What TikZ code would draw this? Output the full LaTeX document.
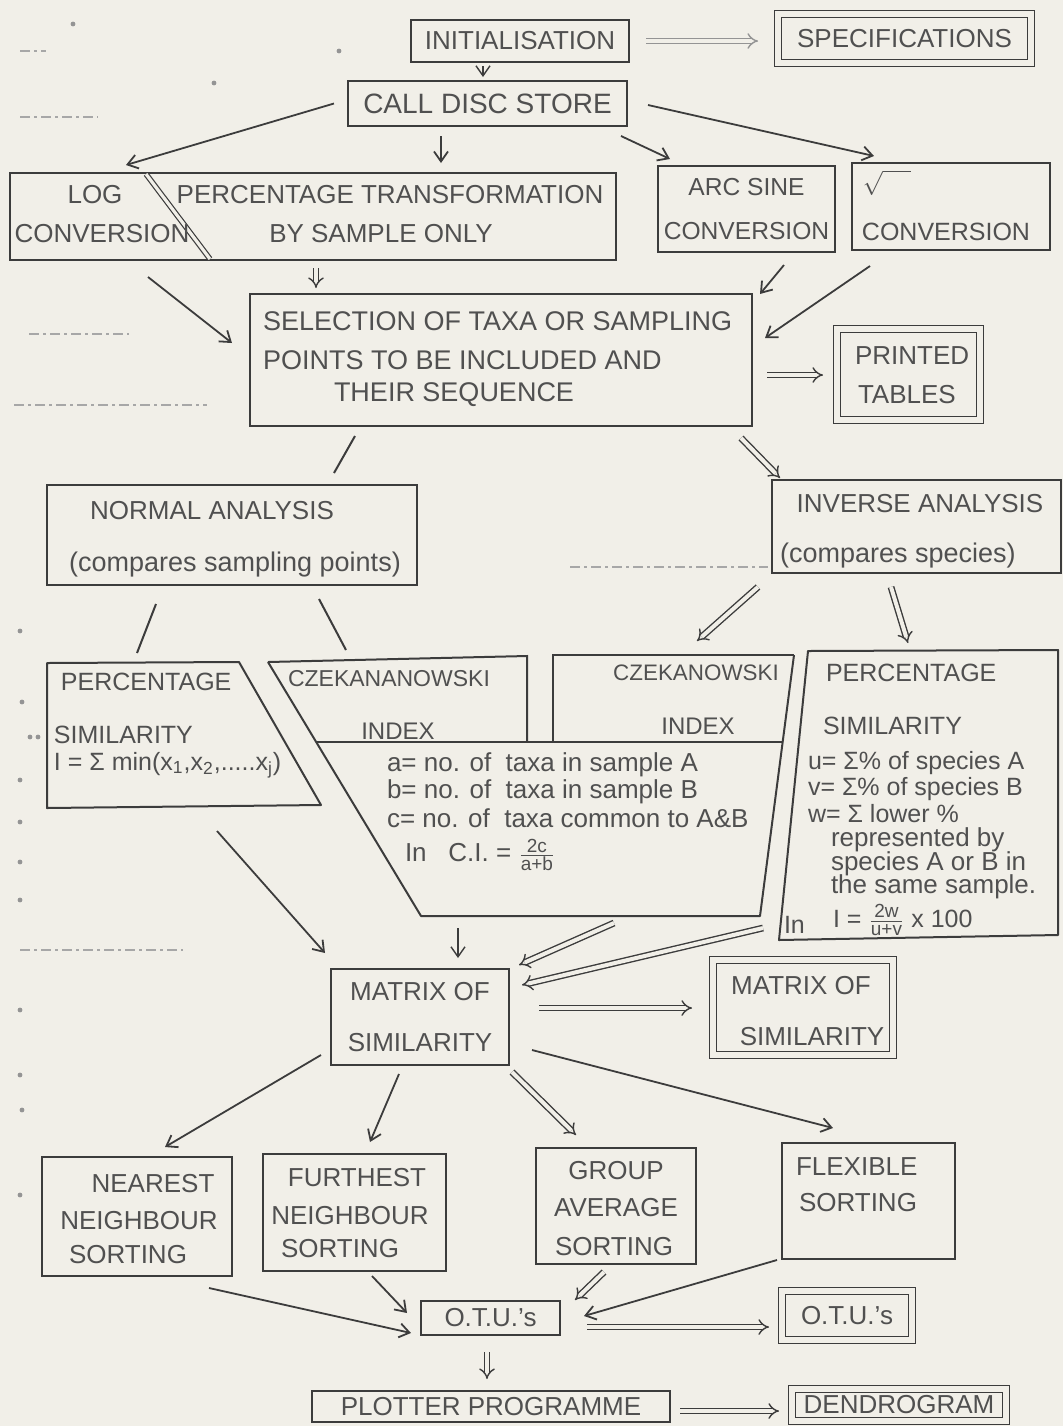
\documentclass[tikz,border=0pt]{standalone}
\usepackage{fontspec}
\setmainfont{Liberation Sans}
\usetikzlibrary{arrows.meta,calc}
\definecolor{paper}{HTML}{F1EFE8}
\definecolor{ink}{HTML}{3C3C3C}
\definecolor{txt}{HTML}{505050}
\newcommand\fsA{\fontsize{13}{15}\selectfont}
\newcommand\fsFr{\fontsize{9.5}{10}\selectfont}
\begin{document}
\begin{tikzpicture}[x=0.5pt,y=-0.5pt,
  box/.style={draw=ink, line width=0.9pt, inner sep=0pt, outer sep=0pt, text=txt, font=\fsA},
  dbox/.style={box, double=paper, double distance=2.6pt, line width=0.8pt},
  tx/.style={text=txt, inner sep=0pt, outer sep=0pt, font=\fsA},
  tw/.style={tx, anchor=west},
  arr/.style={draw=ink, line width=0.9pt, -{Straight Barb[length=5pt,width=7pt]}},
  dar/.style={draw=ink, line width=0.7pt, double=paper, double distance=2pt, -{Implies}},
  ln/.style={draw=ink, line width=1pt},
  scrap/.style={draw=ink!45, line width=0.8pt, dash pattern=on 5pt off 2pt on 1.5pt off 2pt},
  speck/.style={fill=ink!55}]
\fill[paper] (0,0) rectangle (1063,1426);
\useasboundingbox (0,0) rectangle (1063,1426);

% ---------- margin scraps ----------
\draw[scrap] (20,51) -- (46,51);
\draw[scrap] (20,117) -- (98,117);
\draw[scrap] (29,334) -- (129,334);
\draw[scrap] (14,405) -- (207,405);
\draw[scrap] (570,567) -- (768,567);
\draw[scrap] (20,950) -- (183,950);
\foreach \p in {(73,24),(214,83),(339,51),(20,631),(22,702),(30,737),(38,737),(20,780),(20,822),(20,862),(20,900),(20,1010),(20,1075),(22,1110),(20,1195)}
  \fill[speck] \p circle (1.2pt);

% ---------- boxes ----------
\node[box, minimum width=109pt, minimum height=21pt] (init) at (520,41) {INITIALISATION};
\node[dbox, minimum width=126.5pt, minimum height=24.5pt] (spec) at (904.5,38.5) {SPECIFICATIONS};
\node[box, minimum width=139.5pt, minimum height=22.5pt, font=\fontsize{14}{16}\selectfont] (call) at (487.5,103.5) {CALL DISC STORE};
\node[box, minimum width=303pt, minimum height=43.5pt] (logp) at (313,216.5) {};
\node[box, minimum width=88.5pt, minimum height=43pt, align=center, font=\fontsize{12.3}{22}\selectfont] (arcs) at (746.5,209) {ARC SINE\\CONVERSION};
\node[box, minimum width=99pt, minimum height=43.5pt] (sqrt) at (951,206.5) {};
\node[box, minimum width=251pt, minimum height=66pt] (sel) at (501,360) {};
\node[dbox, minimum width=71.5pt, minimum height=45.5pt] (print) at (908.5,374.5) {};
\node[box, minimum width=185pt, minimum height=50pt] (norm) at (232,535) {};
\node[box, minimum width=144.5pt, minimum height=46.5pt] (inv) at (916.5,526.5) {};
\node[box, minimum width=89pt, minimum height=48pt, align=center, font=\fontsize{13}{25.5}\selectfont] (mat) at (420,1017) {MATRIX OF\\SIMILARITY};
\node[dbox, minimum width=90pt, minimum height=47.5pt] (mout) at (803,1007.5) {};
\node[box, minimum width=95pt, minimum height=59.5pt] (near) at (137,1216.5) {};
\node[box, minimum width=91.5pt, minimum height=58.5pt] (fur) at (354.5,1212.5) {};
\node[box, minimum width=80pt, minimum height=58pt] (grp) at (616,1206) {};
\node[box, minimum width=86.5pt, minimum height=58pt] (flex) at (868.5,1201) {};
\node[box, minimum width=69.5pt, minimum height=17pt] (otu) at (490.5,1318) {O.T.U.'s};
\node[dbox, minimum width=65pt, minimum height=24.5pt] (otuo) at (847,1315.5) {O.T.U.'s};
\node[box, minimum width=179pt, minimum height=15.5pt] (plotter) at (491,1406.5) {PLOTTER PROGRAMME};
\node[dbox, minimum width=107pt, minimum height=16pt] (dend) at (899,1405) {DENDROGRAM};

% divider in LOG / PERCENTAGE box
\draw[draw=ink, line width=0.6pt, double=paper, double distance=1.6pt] (146,174) -- (210,259);

% ---------- similarity shapes ----------
\draw[ln, line join=round] (239,662) -- (47,663) -- (47,808) -- (321,805) -- cycle;
\draw[ln] (268,662) -- (527,656) -- (527,742);
\draw[ln] (553,742) -- (553,655) -- (794,655);
\draw[ln, line join=round] (268,662) -- (421,916) -- (760,916) -- (794,655);
\draw[ln] (316,742) -- (783,742);
\draw[ln, line join=round] (808,651) -- (1058,650) -- (1058,935) -- (779,940) -- cycle;

\coordinate (plTop) at (137,653);
\coordinate (czlTop) at (346,650);
\coordinate (czrTop) at (697,641);
\coordinate (prTop) at (908,643);
\coordinate (plBot) at (217,831);
\coordinate (czBot) at (458,928);
\coordinate (czBot2) at (614,923);
\coordinate (prBot) at (763,928);

% ---------- texts ----------
\node[tx] (tLog) at (95,195) {LOG};
\node[tx] (tConv1) at (102,234) {CONVERSION};
\node[tx] (tPT) at (390,195) {PERCENTAGE TRANSFORMATION};
\node[tx] (tBS) at (381,234) {BY SAMPLE ONLY};
\node[tx] (tRad) at (887,183) {$\sqrt{\hphantom{nn}}$};
\node[tx, font=\fontsize{12.5}{14}\selectfont] (tConv2) at (946,232) {CONVERSION};
\node[tw, font=\fontsize{13.5}{15}\selectfont] (tS1) at (263,321) {SELECTION OF TAXA OR SAMPLING};
\node[tw, font=\fontsize{13.5}{15}\selectfont] (tS2) at (263,360) {POINTS TO BE INCLUDED AND};
\node[tw, font=\fontsize{13.5}{15}\selectfont] (tS3) at (334,395) {THEIR SEQUENCE};
\node[tw] (tP1) at (855,356) {PRINTED};
\node[tw] (tP2) at (858,395) {TABLES};
\node[tx] (tN1) at (212,511) {NORMAL ANALYSIS};
\node[tx, font=\fontsize{13.5}{15}\selectfont] (tN2) at (235,565) {(compares sampling points)};
\node[tx] (tI1) at (920,504) {INVERSE ANALYSIS};
\node[tx, font=\fontsize{13.5}{15}\selectfont] (tI2) at (898,556) {(compares species)};
% left percentage similarity
\node[tw, font=\fontsize{12.5}{14}\selectfont] (tLP1) at (61,682) {PERCENTAGE};
\node[tw, font=\fontsize{12.5}{14}\selectfont] (tLP2) at (54,735) {SIMILARITY};
\node[tw, font=\fontsize{12.5}{14}\selectfont] (tLP3) at (54,765) {I = Σ min(x\textsubscript{1},x\textsubscript{2},.....x\textsubscript{j})};
% Czekanowski
\node[tw, font=\fontsize{11.5}{14}\selectfont] (tCL1) at (288,679) {CZEKANANOWSKI};
\node[tx, font=\fontsize{12}{14}\selectfont] (tCL2) at (398,731) {INDEX};
\node[tx, font=\fontsize{11.2}{14}\selectfont] (tCR1) at (696,673) {CZEKANOWSKI};
\node[tx, font=\fontsize{12}{14}\selectfont] (tCR2) at (698,726) {INDEX};
\node[tw, font=\fontsize{13}{14}\selectfont] (tF1) at (387,765) {a= no. of\ \ taxa in sample A};
\node[tw, font=\fontsize{13}{14}\selectfont] (tF2) at (387,792) {b= no. of\ \ taxa in sample B};
\node[tw, font=\fontsize{13}{14}\selectfont] (tF3) at (387,818) {c= no. of\ \ taxa common to A\&B};
\node[tw, font=\fontsize{13}{14}\selectfont] (tF4) at (405,855) {In\ \ \ C.I. = $\frac{\mbox{\fsFr 2c}}{\mbox{\fsFr a+b}}$};
% right percentage similarity
\node[tw, font=\fontsize{12.5}{14}\selectfont] (tRP1) at (826,673) {PERCENTAGE};
\node[tw, font=\fontsize{12.5}{14}\selectfont] (tRP2) at (823,726) {SIMILARITY};
\node[tw, font=\fontsize{12.5}{14}\selectfont] (tRP3) at (808,763) {u= Σ\% of species A};
\node[tw, font=\fontsize{12.5}{14}\selectfont] (tRP4) at (808,789) {v= Σ\% of species B};
\node[tw, font=\fontsize{12.5}{14}\selectfont] (tRP5) at (808,814) {w= Σ lower \%};
\node[tw, font=\fontsize{13}{14}\selectfont] (tRP6) at (831,840) {represented by};
\node[tw, font=\fontsize{13}{14}\selectfont] (tRP7) at (831,864) {species A or B in};
\node[tw, font=\fontsize{13}{14}\selectfont] (tRP8) at (831,887) {the same sample.};
\node[tw, font=\fontsize{12.5}{14}\selectfont] (tRP9) at (784,925) {In};
\node[tw, font=\fontsize{12.5}{14}\selectfont] (tRP10) at (833,920) {I = $\frac{\mbox{\fsFr 2w}}{\mbox{\fsFr u+v}}$ x 100};
% output matrix
\node[tx] (tM1) at (801,986) {MATRIX OF};
\node[tx] (tM2) at (812,1037) {SIMILARITY};
% sorting boxes
\node[tx] (tNe1) at (153,1184) {NEAREST};
\node[tx] (tNe2) at (139,1221) {NEIGHBOUR};
\node[tx] (tNe3) at (128,1255) {SORTING};
\node[tx] (tFu1) at (357,1178) {FURTHEST};
\node[tx] (tFu2) at (350,1216) {NEIGHBOUR};
\node[tx] (tFu3) at (340,1249) {SORTING};
\node[tx] (tGr1) at (616,1171) {GROUP};
\node[tx] (tGr2) at (616,1208) {AVERAGE};
\node[tx] (tGr3) at (614,1247) {SORTING};
\node[tw] (tFl1) at (796,1167) {FLEXIBLE};
\node[tw] (tFl2) at (799,1203) {SORTING};

% ---------- connectors ----------
\draw[arr, line width=0.7pt] ($(init.south)+(-37,4)$) -- ($(call.north)+(-4.5,-4)$);
\draw[dar, draw=ink!55] ($(init.east)+(17,0)$) -- ($(spec.west)+(-20,2.5)$);
\draw[arr] ($(call.west)+(-14,0)$) -- ($(logp.north)+(-187,-8)$);
\draw[arr] ($(call.south)+(-46.5,10)$) -- ($(logp.north)+(128,-10)$);
\draw[arr] ($(call.south east)+(-6,10)$) -- ($(arcs.north west)+(12,-7)$);
\draw[arr] ($(call.east)+(21,1.5)$) -- ($(sqrt.north west)+(22,-7)$);
\draw[dar] ($(logp.south)+(3,8)$) -- ($(sel.north west)+(66,-6)$);
\draw[arr] ($(logp.south west)+(138,17)$) -- ($(sel.west)+(-18,-17)$);
\draw[arr] ($(arcs.south)+(37.5,13)$) -- ($(sel.north east)+(8,0)$);
\draw[arr] ($(sqrt.south west)+(18,16)$) -- ($(sel.east)+(13,-22)$);
\draw[dar] ($(sel.east)+(15,15)$) -- ($(print.west)+(-14,0.5)$);
\draw[dar] ($(sel.south east)+(-11,12)$) -- ($(inv.north west)+(8,-2)$);
\draw[ln] ($(sel.south west)+(105,10)$) -- ($(norm.north)+(102,-12)$);
\draw[ln] ($(norm.south)+(-76,19)$) -- (plTop);
\draw[ln] ($(norm.south)+(87,14)$) -- (czlTop);
\draw[dar] ($(inv.south west)+(-14,14)$) -- (czrTop);
\draw[dar] ($(inv.south)+(-25.5,14)$) -- (prTop);
\draw[arr] (plBot) -- ($(mat.north west)+(-6,-16)$);
\draw[arr, line width=0.7pt] (czBot) -- ($(mat.north)+(38,-11)$);
\draw[dar] (czBot2) -- ($(mat.north east)+(10,-4)$);
\draw[dar] (prBot) -- ($(mat.east)+(13,-32)$);
\draw[dar] ($(mat.east)+(30,-9)$) -- ($(mout.west)+(-21,0.5)$);
\draw[arr] ($(mat.south west)+(-10,-10)$) -- ($(near.north)+(28,-10)$);
\draw[arr] ($(mat.south)+(-21,9)$) -- ($(fur.north)+(15.5,-12)$);
\draw[dar] ($(mat.south east)+(3,7)$) -- ($(grp.north)+(-40,-13)$);
\draw[arr] ($(mat.east)+(23,33)$) -- ($(flex.north)+(-35.5,-15)$);
\draw[arr] ($(near.south)+(72,12)$) -- ($(otu.west)+(-10,15)$);
\draw[arr] ($(fur.south)+(17.5,5)$) -- ($(otu.north west)+(-14,12)$);
\draw[dar] ($(grp.south)+(-12,8)$) -- ($(otu.north east)+(15,-1)$);
\draw[arr] ($(flex.south west)+(-5,1)$) -- ($(otu.east)+(24,-2)$);
\draw[dar] ($(otu.east)+(27,9)$) -- ($(otuo.west)+(-13,11.5)$);
\draw[dar] ($(otu.south)+(-3.5,17)$) -- ($(plotter.north)+(-4,-12)$);
\draw[dar] ($(plotter.east)+(10,4.5)$) -- ($(dend.west)+(-13,6)$);
\end{tikzpicture}
\end{document}
